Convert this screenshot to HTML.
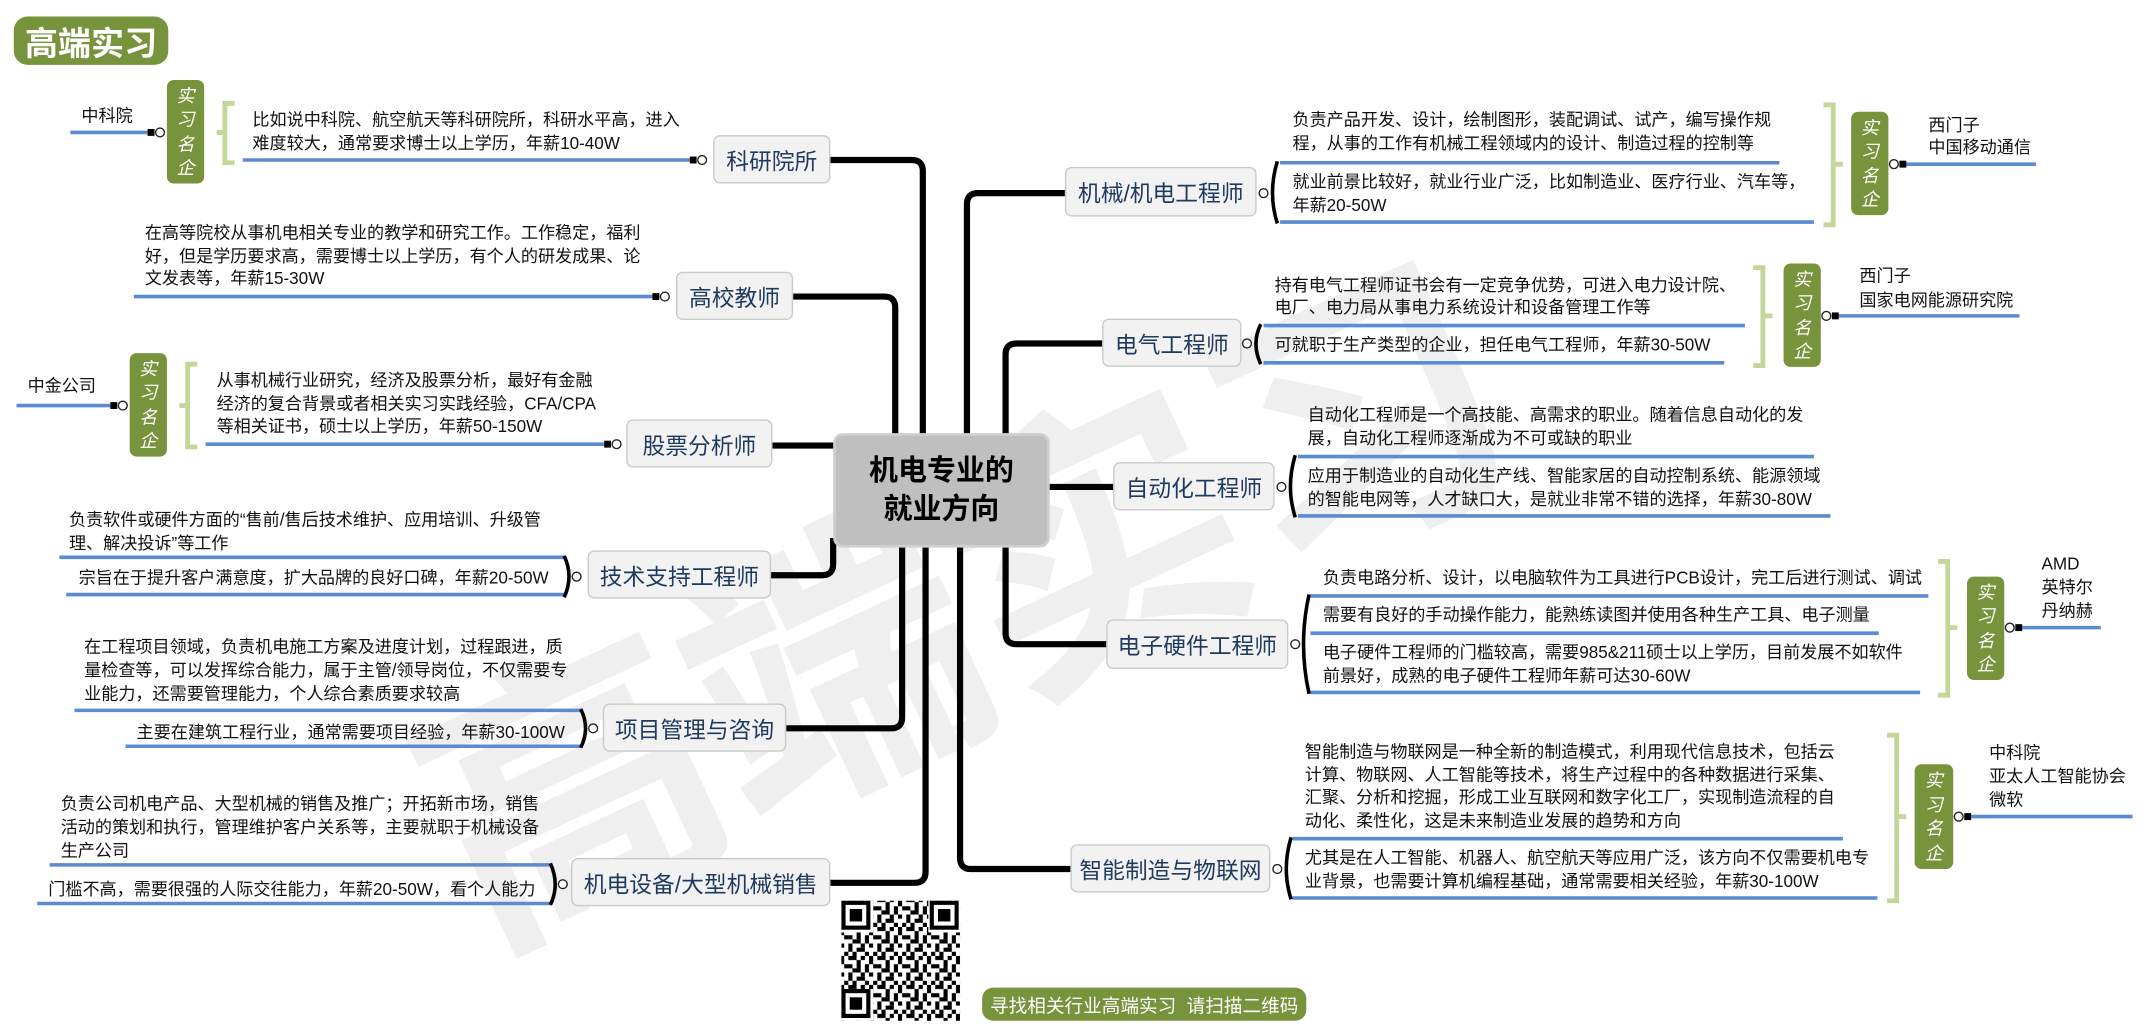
<!DOCTYPE html>
<html><head><meta charset="utf-8">
<style>
html{margin:0;padding:0;width:2152px;height:1034px;overflow:hidden;}
body{margin:0;padding:0;background:#fff;width:2152px;height:1034px;overflow:hidden;position:relative;}
#c{position:absolute;left:0;top:0;width:1560px;height:749px;overflow:hidden;transform:scale(1.3794);transform-origin:0 0;font-family:"Liberation Sans","Noto Sans CJK SC",sans-serif;}
.t{position:absolute;font-size:12.4px;line-height:17px;color:#111;white-space:nowrap;}
.n{position:absolute;box-sizing:border-box;background:#f2f2f2;border:1.6px solid #c9c9c9;border-radius:5px;color:#1f3a5f;font-size:16.5px;display:flex;align-items:center;justify-content:center;white-space:nowrap;}
.g{position:absolute;background:#77933c;border-radius:5px;color:#fff;font-size:13px;font-style:italic;display:flex;flex-direction:column;align-items:center;justify-content:center;line-height:17.5px;}
</style></head><body>
<div id="c">
<svg width="1560" height="749" style="position:absolute;left:0;top:0;overflow:hidden">
<g fill="#efefef" font-family="Liberation Sans,Noto Sans CJK SC,sans-serif" font-weight="bold" font-size="210">
<text x="280" y="515" transform="rotate(-25 700 440)">高端实习</text>
</g>
<g fill="none" stroke="#000" stroke-width="4.5" stroke-linejoin="round">
<path d="M602,116 H661 Q669,116 669,124 V320"/>
<path d="M575,215 H641 Q649,215 649,223 V320"/>
<path d="M560,323 H610"/>
<path d="M559,417 H596 Q604,417 604,409 V390"/>
<path d="M570,528 H646 Q654,528 654,520 V390"/>
<path d="M602,640 H663 Q671,640 671,632 V390"/>
<path d="M772,140 H709 Q701,140 701,148 V320"/>
<path d="M799,249 H737 Q729,249 729,257 V320"/>
<path d="M755,353 H807"/>
<path d="M802,467 H737 Q729,467 729,459 V390"/>
<path d="M776,630 H704 Q696,630 696,622 V390"/>
</g>
<g stroke="#5b8bd0" stroke-width="2.6">
<path d="M176,116H500M97,215H473M149,322H438M43,404H410M48,431H410M54,515H422M91,541H422M36,627H400M27,655H400M51,96H107M12,294H80"/>
<path d="M928,118H1290M928,161H1315M916,236H1265M916,263H1250M941,331H1315M941,374H1327M950,432H1398M950,459H1362M950,502H1392M937,608H1336M937,651H1361"/>
<path d="M1382,119H1476M1333,229H1464M1466,455H1523M1429,592H1546"/>
</g>
<g fill="#000">
<rect x="500" y="113.5" width="5" height="5"/><rect x="473" y="212.5" width="5" height="5"/><rect x="438" y="319.5" width="5" height="5"/>
<rect x="107" y="93.5" width="5" height="5"/><rect x="80" y="291.5" width="5" height="5"/>
<rect x="1377" y="116.5" width="5" height="5"/><rect x="1328" y="226.5" width="5" height="5"/><rect x="1461" y="452.5" width="5" height="5"/><rect x="1424" y="589.5" width="5" height="5"/>
</g>
<g fill="#fff" stroke="#222" stroke-width="1">
<circle cx="509" cy="116" r="3.2"/><circle cx="482" cy="215" r="3.2"/><circle cx="447" cy="322" r="3.2"/>
<circle cx="116" cy="96" r="3.2"/><circle cx="89" cy="294" r="3.2"/>
<circle cx="1373" cy="119" r="3.2"/><circle cx="1324" cy="229" r="3.2"/><circle cx="1457" cy="455" r="3.2"/><circle cx="1420" cy="592" r="3.2"/>
<circle cx="418" cy="418" r="3.2"/><circle cx="430" cy="528" r="3.2"/><circle cx="408" cy="641" r="3.2"/>
<circle cx="916" cy="140" r="3.2"/><circle cx="904" cy="249" r="3.2"/><circle cx="929" cy="353" r="3.2"/><circle cx="939" cy="467" r="3.2"/><circle cx="926" cy="630" r="3.2"/>
</g>
<g fill="none" stroke="#000" stroke-width="2.6">
<path d="M409,403 Q416,418 409,433"/><path d="M421,514 Q428,528 421,542"/><path d="M399,626 Q406,641 399,656"/>
<path d="M926,117 Q919,140 926,162"/><path d="M914,235 Q907,249 914,264"/><path d="M939,330 Q932,353 939,375"/><path d="M949,431 Q941,467 949,503"/><path d="M936,607 Q929,630 936,652"/>
</g>
<g fill="none" stroke="#c4d79b" stroke-width="3.5">
<path d="M170,75 H163 V118 H170 M163,96 H157"/>
<path d="M143,264 H136 V324 H143 M136,294 H130"/>
<path d="M1322,76 H1329 V163 H1322 M1329,119 H1336"/>
<path d="M1271,194 H1278 V265 H1271 M1278,229 H1285"/>
<path d="M1405,407 H1412 V504 H1405 M1412,455 H1419"/>
<path d="M1368,533 H1375 V653 H1368 M1375,592 H1382"/>
</g>
<defs>
<pattern id="qp" width="21" height="21" patternUnits="userSpaceOnUse">
<rect width="21" height="21" fill="#fff"/>
<g fill="#000">
<rect x="0" y="0" width="3" height="6"/><rect x="6" y="0" width="6" height="3"/><rect x="15" y="0" width="3" height="3"/>
<rect x="3" y="6" width="6" height="3"/><rect x="12" y="3" width="3" height="6"/><rect x="18" y="6" width="3" height="6"/>
<rect x="0" y="12" width="3" height="3"/><rect x="6" y="12" width="3" height="6"/><rect x="9" y="9" width="6" height="3"/>
<rect x="12" y="15" width="6" height="3"/><rect x="3" y="18" width="3" height="3"/><rect x="15" y="12" width="3" height="3"/>
<rect x="18" y="18" width="3" height="3"/><rect x="9" y="18" width="3" height="3"/>
</g>
</pattern>
</defs>
<rect x="610" y="653" width="86" height="87" fill="url(#qp)"/>
<g fill="#fff"><rect x="610" y="653" width="23" height="23"/><rect x="673" y="653" width="23" height="23"/><rect x="610" y="717" width="23" height="23"/></g>
<g fill="none" stroke="#000" stroke-width="3"><rect x="611.5" y="654.5" width="18" height="18"/><rect x="675.5" y="654.5" width="18" height="18"/><rect x="611.5" y="718.5" width="18" height="18"/></g>
<g fill="#000"><rect x="616" y="659" width="9" height="9"/><rect x="680" y="659" width="9" height="9"/><rect x="616" y="723" width="9" height="9"/></g>
</svg>

<div style="position:absolute;left:10px;top:12px;width:112px;height:35px;background:#77933c;border-radius:10px;color:#fff;font-size:24px;font-weight:bold;display:flex;align-items:center;justify-content:center;">高端实习</div>

<div style="position:absolute;left:604px;top:314px;width:157px;height:83px;box-sizing:border-box;background:#bfbfbf;border:2px solid #cfcfcf;border-radius:7px;display:flex;align-items:center;justify-content:center;text-align:center;font-weight:bold;font-size:21px;line-height:28px;color:#000;">机电专业的<br>就业方向</div>

<div class="n" style="left:517px;top:98px;width:85px;height:35px">科研院所</div>
<div class="n" style="left:490px;top:197px;width:85px;height:35px">高校教师</div>
<div class="n" style="left:454px;top:304px;width:106px;height:35px">股票分析师</div>
<div class="n" style="left:426px;top:399px;width:133px;height:35px">技术支持工程师</div>
<div class="n" style="left:437px;top:510px;width:133px;height:35px">项目管理与咨询</div>
<div class="n" style="left:414px;top:622px;width:188px;height:35px">机电设备/大型机械销售</div>
<div class="n" style="left:772px;top:121px;width:139px;height:36px">机械/机电工程师</div>
<div class="n" style="left:799px;top:231px;width:101px;height:35px">电气工程师</div>
<div class="n" style="left:807px;top:335px;width:117px;height:35px">自动化工程师</div>
<div class="n" style="left:802px;top:449px;width:132px;height:36px">电子硬件工程师</div>
<div class="n" style="left:776px;top:612px;width:145px;height:35px">智能制造与物联网</div>

<div class="g" style="left:121px;top:58px;width:27px;height:75px">实<br>习<br>名<br>企</div>
<div class="g" style="left:94px;top:256px;width:27px;height:75px">实<br>习<br>名<br>企</div>
<div class="g" style="left:1342px;top:81px;width:27px;height:75px">实<br>习<br>名<br>企</div>
<div class="g" style="left:1293px;top:191px;width:27px;height:75px">实<br>习<br>名<br>企</div>
<div class="g" style="left:1426px;top:418px;width:27px;height:75px">实<br>习<br>名<br>企</div>
<div class="g" style="left:1388px;top:554px;width:28px;height:76px">实<br>习<br>名<br>企</div>

<div class="t" style="left:59px;top:76px">中科院</div>
<div class="t" style="left:20px;top:272px">中金公司</div>
<div class="t" style="left:1398px;top:83px;line-height:16px">西门子<br>中国移动通信</div>
<div class="t" style="left:1348px;top:191px;line-height:18px">西门子<br>国家电网能源研究院</div>
<div class="t" style="left:1480px;top:401px">AMD<br>英特尔<br>丹纳赫</div>
<div class="t" style="left:1442px;top:538px;line-height:17px">中科院<br>亚太人工智能协会<br>微软</div>

<div class="t" style="left:183px;top:79px">比如说中科院、航空航天等科研院所，科研水平高，进入<br>难度较大，通常要求博士以上学历，年薪10-40W</div>
<div class="t" style="left:105px;top:161px;line-height:16.7px">在高等院校从事机电相关专业的教学和研究工作。工作稳定，福利<br>好，但是学历要求高，需要博士以上学历，有个人的研发成果、论<br>文发表等，年薪15-30W</div>
<div class="t" style="left:157px;top:268px;line-height:16.7px">从事机械行业研究，经济及股票分析，最好有金融<br>经济的复合背景或者相关实习实践经验，CFA/CPA<br>等相关证书，硕士以上学历，年薪50-150W</div>
<div class="t" style="left:50px;top:369px">负责软件或硬件方面的“售前/售后技术维护、应用培训、升级管<br>理、解决投诉”等工作</div>
<div class="t" style="left:57px;top:411px">宗旨在于提升客户满意度，扩大品牌的良好口碑，年薪20-50W</div>
<div class="t" style="left:61px;top:461px">在工程项目领域，负责机电施工方案及进度计划，过程跟进，质<br>量检查等，可以发挥综合能力，属于主管/领导岗位，不仅需要专<br>业能力，还需要管理能力，个人综合素质要求较高</div>
<div class="t" style="left:99px;top:523px">主要在建筑工程行业，通常需要项目经验，年薪30-100W</div>
<div class="t" style="left:44px;top:575px">负责公司机电产品、大型机械的销售及推广；开拓新市场，销售<br>活动的策划和执行，管理维护客户关系等，主要就职于机械设备<br>生产公司</div>
<div class="t" style="left:35px;top:637px">门槛不高，需要很强的人际交往能力，年薪20-50W，看个人能力</div>

<div class="t" style="left:937px;top:79px">负责产品开发、设计，绘制图形，装配调试、试产，编写操作规<br>程，从事的工作有机械工程领域内的设计、制造过程的控制等</div>
<div class="t" style="left:937px;top:124px">就业前景比较好，就业行业广泛，比如制造业、医疗行业、汽车等，<br>年薪20-50W</div>
<div class="t" style="left:924px;top:199px;line-height:16px">持有电气工程师证书会有一定竞争优势，可进入电力设计院、<br>电厂、电力局从事电力系统设计和设备管理工作等</div>
<div class="t" style="left:924px;top:242px">可就职于生产类型的企业，担任电气工程师，年薪30-50W</div>
<div class="t" style="left:948px;top:293px">自动化工程师是一个高技能、高需求的职业。随着信息自动化的发<br>展，自动化工程师逐渐成为不可或缺的职业</div>
<div class="t" style="left:948px;top:337px;line-height:16.5px">应用于制造业的自动化生产线、智能家居的自动控制系统、能源领域<br>的智能电网等，人才缺口大，是就业非常不错的选择，年薪30-80W</div>
<div class="t" style="left:959px;top:411px">负责电路分析、设计，以电脑软件为工具进行PCB设计，完工后进行测试、调试</div>
<div class="t" style="left:959px;top:438px">需要有良好的手动操作能力，能熟练读图并使用各种生产工具、电子测量</div>
<div class="t" style="left:959px;top:465px">电子硬件工程师的门槛较高，需要985&amp;211硕士以上学历，目前发展不如软件<br>前景好，成熟的电子硬件工程师年薪可达30-60W</div>
<div class="t" style="left:946px;top:537px;line-height:16.7px">智能制造与物联网是一种全新的制造模式，利用现代信息技术，包括云<br>计算、物联网、人工智能等技术，将生产过程中的各种数据进行采集、<br>汇聚、分析和挖掘，形成工业互联网和数字化工厂，实现制造流程的自<br>动化、柔性化，这是未来制造业发展的趋势和方向</div>
<div class="t" style="left:946px;top:614px;line-height:16.5px">尤其是在人工智能、机器人、航空航天等应用广泛，该方向不仅需要机电专<br>业背景，也需要计算机编程基础，通常需要相关经验，年薪30-100W</div>

<div style="position:absolute;left:712px;top:716px;width:235px;height:24px;background:#77933c;border-radius:8px;color:#fff;font-size:13.5px;display:flex;align-items:center;justify-content:center;white-space:nowrap;">寻找相关行业高端实习&nbsp;&nbsp;请扫描二维码</div>
</div>
</body></html>
